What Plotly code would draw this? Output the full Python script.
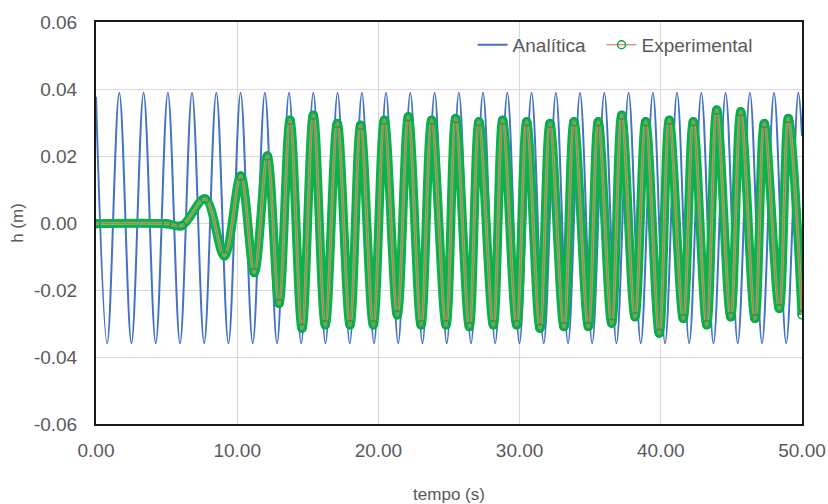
import plotly.graph_objects as go

# Analytical solution: start value, troughs and peaks
analitica_t = [0.00, 0.79, 1.65, 2.51, 3.37, 4.23, 5.09, 5.95, 6.80, 7.66, 8.52, 9.38,
               10.24, 11.10, 11.96, 12.82, 13.67, 14.53, 15.39, 16.25, 17.11, 17.97,
               18.83, 19.69, 20.54, 21.40, 22.26, 23.12, 23.98, 24.84, 25.70, 26.56,
               27.41, 28.27, 29.13, 29.99, 30.85, 31.71, 32.57, 33.43, 34.28, 35.14,
               36.00, 36.86, 37.72, 38.58, 39.44, 40.30, 41.15, 42.01, 42.87, 43.73,
               44.59, 45.45, 46.31, 47.17, 48.02, 48.88, 49.74, 50.00]
analitica_h = [0.0377, -0.0359, 0.0389, -0.0359, 0.0389, -0.0359, 0.0389, -0.0359, 0.0389,
               -0.0359, 0.0389, -0.0359, 0.0389, -0.0359, 0.0389, -0.0359, 0.0389, -0.0359,
               0.0389, -0.0359, 0.0389, -0.0359, 0.0389, -0.0359, 0.0389, -0.0359, 0.0389,
               -0.0359, 0.0389, -0.0359, 0.0389, -0.0359, 0.0389, -0.0359, 0.0389, -0.0359,
               0.0389, -0.0359, 0.0389, -0.0359, 0.0389, -0.0359, 0.0389, -0.0359, 0.0389,
               -0.0359, 0.0389, -0.0359, 0.0389, -0.0359, 0.0389, -0.0359, 0.0389, -0.0359,
               0.0389, -0.0359, 0.0389, -0.0359, 0.0389, 0.0260]

# Experimental record: turning points
exp_t = [0.00, 5.00, 6.07, 7.72, 9.09, 10.25, 11.21, 12.13, 12.96, 13.74, 14.59, 15.39,
         16.24, 17.09, 17.99, 18.74, 19.64, 20.42, 21.34, 22.12, 23.02, 23.77, 24.79,
         25.47, 26.44, 27.12, 28.14, 28.80, 29.79, 30.50, 31.44, 32.15, 33.14, 33.85,
         34.87, 35.57, 36.52, 37.23, 38.17, 38.93, 39.89, 40.60, 41.59, 42.30, 43.25,
         43.96, 44.95, 45.66, 46.67, 47.33, 48.39, 49.03, 50.00]
exp_h = [-0.0002, -0.0002, -0.0008, 0.0072, -0.0098, 0.0140, -0.0148, 0.0200, -0.0240,
         0.0307, -0.0314, 0.0322, -0.0304, 0.0297, -0.0304, 0.0292, -0.0304, 0.0307,
         -0.0274, 0.0317, -0.0304, 0.0307, -0.0304, 0.0312, -0.0309, 0.0302, -0.0304,
         0.0307, -0.0304, 0.0302, -0.0314, 0.0297, -0.0309, 0.0302, -0.0309, 0.0302,
         -0.0299, 0.0322, -0.0280, 0.0302, -0.0329, 0.0307, -0.0285, 0.0302, -0.0304,
         0.0337, -0.0280, 0.0332, -0.0285, 0.0297, -0.0255, 0.0312, -0.0274]

x_ticks = [0, 10, 20, 30, 40, 50]
x_tick_labels = ["0.00", "10.00", "20.00", "30.00", "40.00", "50.00"]
y_ticks = [-0.06, -0.04, -0.02, 0.0, 0.02, 0.04, 0.06]
y_tick_labels = ["-0.06", "-0.04", "-0.02", "0.00", "0.02", "0.04", "0.06"]

FONT = "Liberation Sans, Arial, sans-serif"
GRAY = "#595959"

fig = go.Figure()
fig.add_trace(go.Scatter(
    x=analitica_t, y=analitica_h, name="Analítica", mode="lines", legend="legend",
    line=dict(color="#4472C4", width=2, shape="spline", smoothing=1.0)))
# green band made of the experimental markers
fig.add_trace(go.Scatter(
    x=exp_t, y=exp_h, mode="lines", showlegend=False, hoverinfo="skip",
    line=dict(color="#0DB14B", width=9, shape="spline", smoothing=1.0)))
fig.add_trace(go.Scatter(
    x=exp_t, y=exp_h, mode="lines", showlegend=False, hoverinfo="skip",
    line=dict(color="rgba(150,195,130,0.7)", width=3, shape="spline", smoothing=1.0)))
fig.add_trace(go.Scatter(
    x=exp_t, y=exp_h, name="Experimental", mode="lines+markers", legend="legend2",
    line=dict(color="#D8664A", width=1, shape="spline", smoothing=1.0),
    marker=dict(symbol="circle-open", size=8, color="#0DA548", line=dict(width=1.5))))

legend_common = dict(orientation="h", y=0.943, yanchor="middle", xanchor="right",
                     bgcolor="rgba(0,0,0,0)", font=dict(size=19, color=GRAY),
                     itemwidth=30)

fig.update_layout(
    width=828, height=504,
    margin=dict(l=96, r=26, t=22, b=80),
    paper_bgcolor="white", plot_bgcolor="white",
    font=dict(family=FONT, size=19, color=GRAY),
    legend=dict(x=0.702, **legend_common),
    legend2=dict(x=0.937, **legend_common),
    xaxis=dict(range=[0, 50], tickvals=x_ticks, ticktext=x_tick_labels,
               showgrid=True, gridcolor="#D9D9D9", gridwidth=1, zeroline=False,
               showline=True, linecolor="#1a1a1a", linewidth=2, mirror=True,
               ticks="", ticklabelstandoff=8, automargin=False,
               title=dict(text="tempo (s)", standoff=36, font=dict(size=17, color=GRAY))),
    yaxis=dict(range=[-0.06, 0.06], tickvals=y_ticks, ticktext=y_tick_labels,
               showgrid=True, gridcolor="#D9D9D9", gridwidth=1, zeroline=False,
               showline=True, linecolor="#1a1a1a", linewidth=2, mirror=True,
               ticks="", ticklabelstandoff=13, automargin=False,
               title=dict(text="h (m)", standoff=6, font=dict(size=17, color=GRAY))),
)

fig.write_html("out.html", config={"displayModeBar": False},
               post_script="document.body.style.margin='0';")
